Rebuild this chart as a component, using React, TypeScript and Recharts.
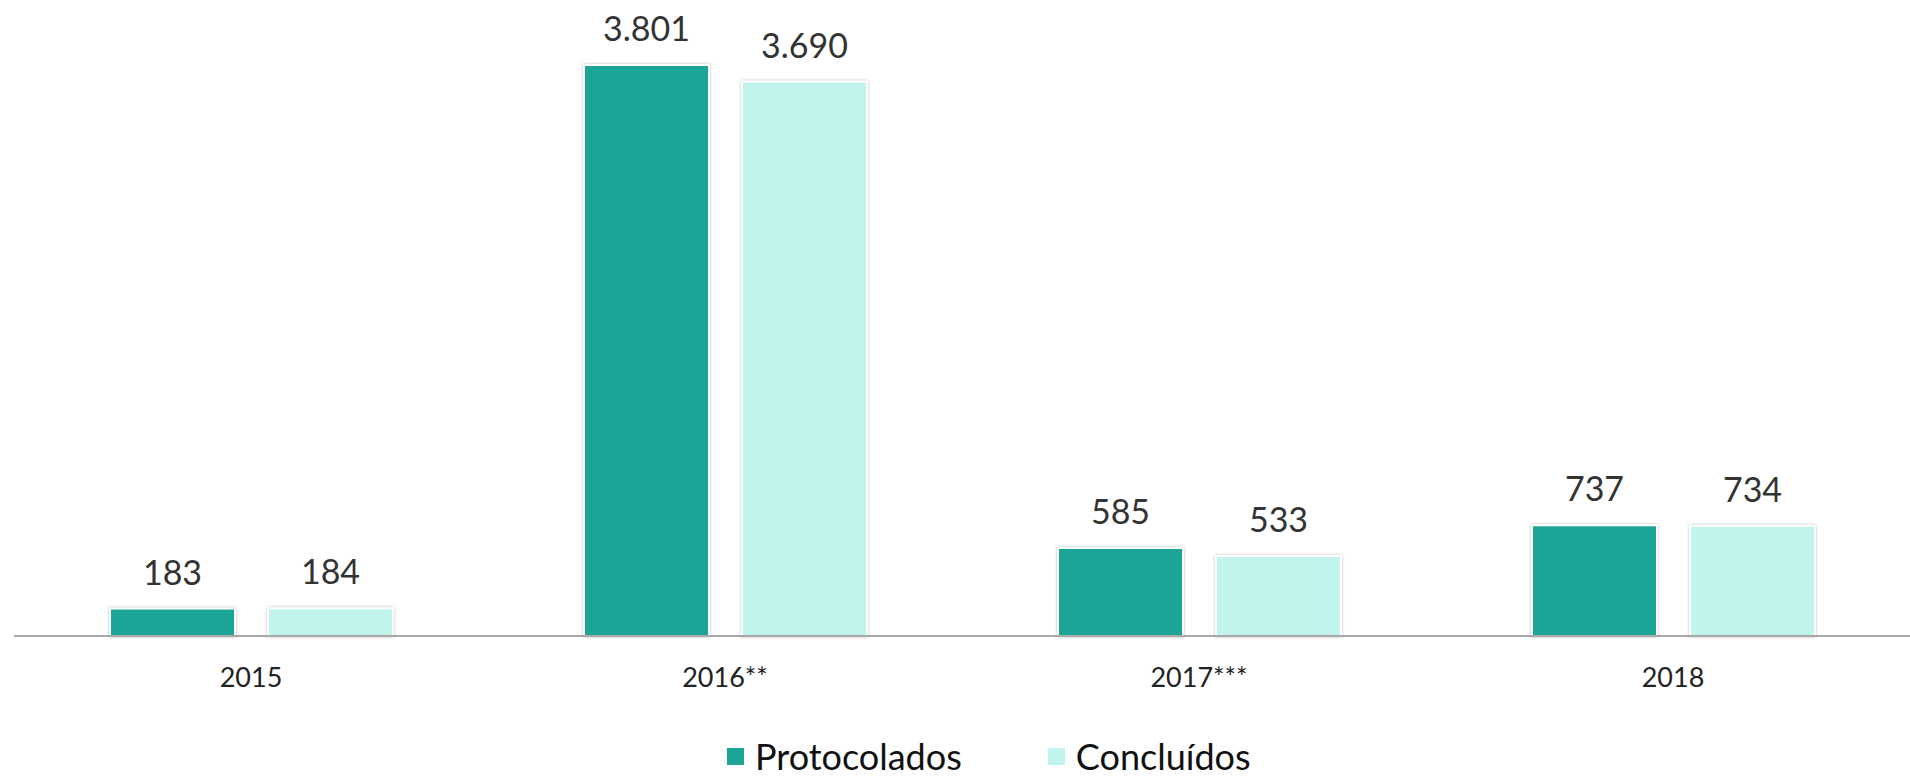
import { BarChart, Bar, XAxis, YAxis, Legend, LabelList } from "recharts";

const YEARS = ["2015", "2016**", "2017***", "2018"];
const PROTOCOLADOS = [183, 3801, 585, 737];
const CONCLUIDOS = [184, 3690, 533, 734];

const DARK = "#1ca497";
const LIGHT = "#c2f4ee";
const FONT = "Lato, 'Open Sans', sans-serif";

const data = YEARS.map((year, i) => ({
  year,
  protocolados: PROTOCOLADOS[i],
  concluidos: CONCLUIDOS[i],
}));

const fmt = (v: number) => v.toLocaleString("pt-BR");

function LegendContent() {
  const items = [
    { name: "Protocolados", color: DARK },
    { name: "Concluídos", color: LIGHT },
  ];
  return (
    <div style={{
      height: 40, display: "flex", justifyContent: "flex-start", alignItems: "center",
      paddingLeft: 713, gap: 86, fontFamily: FONT, fontSize: 36, color: "#111",
    }}>
      {items.map((it) => (
        <div key={it.name} style={{ display: "flex", alignItems: "center" }}>
          <span style={{ width: 17, height: 17, background: it.color, marginRight: 11, display: "inline-block" }} />
          {it.name}
        </div>
      ))}
    </div>
  );
}

export default function App() {
  const barStyle = { filter: "drop-shadow(0 0 1.5px rgba(0,0,0,0.25))" };
  return (
    <div style={{ position: "absolute", left: 0, top: 0, width: 1910, height: 776, background: "#fff" }}>
      <BarChart
        width={1910}
        height={776}
        data={data}
        margin={{ top: 35, right: 0, left: 14, bottom: 0 }}
        barSize={125}
        barGap={33}
      >
        <XAxis
          dataKey="year"
          height={100}
          axisLine={{ stroke: "#8c8c8c", strokeWidth: 1.5 }}
          tickLine={false}
          tickMargin={26}
          tick={{ fontSize: 27, fill: "#222", fontFamily: FONT }}
        />
        <YAxis hide domain={[0, 4000]} />
        <Legend verticalAlign="bottom" content={<LegendContent />} />
        <Bar dataKey="protocolados" name="Protocolados" fill={DARK} stroke="#fff" strokeWidth={2}
          style={barStyle} isAnimationActive={false}>
          <LabelList dataKey="protocolados" position="top" offset={24} formatter={fmt}
            style={{ fontSize: 34, fill: "#333", fontFamily: FONT }} />
        </Bar>
        <Bar dataKey="concluidos" name="Concluídos" fill={LIGHT} stroke="#fff" strokeWidth={2}
          style={barStyle} isAnimationActive={false}>
          <LabelList dataKey="concluidos" position="top" offset={24} formatter={fmt}
            style={{ fontSize: 34, fill: "#333", fontFamily: FONT }} />
        </Bar>
      </BarChart>
    </div>
  );
}
